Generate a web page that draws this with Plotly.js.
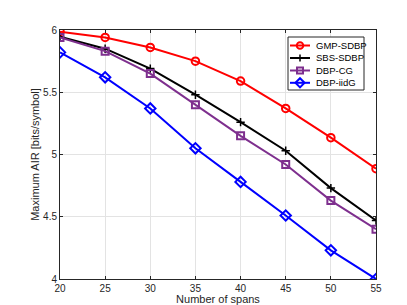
<!DOCTYPE html>
<html><head><meta charset="utf-8">
<script src="https://cdn.plot.ly/plotly-3.0.1.min.js"></script>
<style>html,body{margin:0;padding:0;background:#fff;}#c{width:407px;height:305px;}</style>
</head><body><div id="c"></div>
<script>
const spans = [20, 25, 30, 35, 40, 45, 50, 55];
const gmpSDBP = [5.987, 5.94, 5.86, 5.75, 5.59, 5.37, 5.135, 4.886];
const sbsSDBP = [5.946, 5.85, 5.69, 5.48, 5.26, 5.03, 4.73, 4.47];
const dbpCG   = [5.94, 5.83, 5.65, 5.40, 5.15, 4.92, 4.63, 4.40];
const dbpIidG = [5.82, 5.62, 5.37, 5.05, 4.78, 4.51, 4.23, 4.00];
const names = ['GMP-SDBP', 'SBS-SDBP', 'DBP-CG', 'DBP-iidG'];
const xTicks = [20, 25, 30, 35, 40, 45, 50, 55];
const yTicks = [4, 4.5, 5, 5.5, 6];

const series = [gmpSDBP, sbsSDBP, dbpCG, dbpIidG];
const colors = ['#ff0000', '#000000', '#7e2f8e', '#0000ff'];
const symbols = ['circle-open', 'cross-thin-open', 'square-open', 'diamond-open'];
const sizes = [7.5, 6, 7, 8];
const mlw = [2, 1.5, 2, 2];
const traces = series.map((s, i) => ({
  x: spans, y: s, name: names[i], type: 'scatter', mode: 'lines+markers',
  showlegend: false,
  line: {color: colors[i], width: 2},
  marker: {symbol: symbols[i], size: sizes[i], color: colors[i], line: {color: colors[i], width: mlw[i]}}
}));

// Custom compact legend (MATLAB style) drawn in a hidden 0..1 overlay frame
const plotL = 60, plotR = 376, plotT = 30, plotB = 279;
const fx = px => (px - plotL) / (plotR - plotL);
const fy = py => (plotB - py) / (plotB - plotT);
const legRowY = [45.5, 58, 70.5, 82.8];
const legendTraces = [{
  x: [fx(288), fx(364), fx(364), fx(288), fx(288)],
  y: [fy(90), fy(90), fy(37), fy(37), fy(90)],
  xaxis: 'x2', yaxis: 'y2', type: 'scatter', mode: 'lines', fill: 'toself',
  fillcolor: '#fff', line: {color: '#262626', width: 1}, showlegend: false, hoverinfo: 'skip'
}];
const annotations = [];
names.forEach((n, i) => {
  legendTraces.push({
    x: [fx(290), fx(310)], y: [fy(legRowY[i]), fy(legRowY[i])],
    xaxis: 'x2', yaxis: 'y2', type: 'scatter', mode: 'lines', showlegend: false,
    line: {color: colors[i], width: 2}, hoverinfo: 'skip'
  });
  legendTraces.push({
    x: [fx(300)], y: [fy(legRowY[i])],
    xaxis: 'x2', yaxis: 'y2', type: 'scatter', mode: 'markers', showlegend: false,
    marker: {symbol: symbols[i], size: sizes[i] - 1, color: colors[i], line: {color: colors[i], width: mlw[i]}},
    hoverinfo: 'skip'
  });
  annotations.push({xref: 'paper', yref: 'paper', x: fx(314), y: fy(legRowY[i]),
    xanchor: 'left', yanchor: 'middle', showarrow: false, text: n,
    font: {family: 'Liberation Sans, Arial, sans-serif', size: 9.5, color: '#000'}});
});

const font = {family: 'Liberation Sans, Arial, sans-serif', size: 10, color: '#262626'};
const layout = {
  width: 407, height: 305,
  margin: {l: 60, r: 31, t: 30, b: 26},
  paper_bgcolor: '#fff', plot_bgcolor: '#fff',
  font: font,
  showlegend: false,
  annotations: annotations,
  xaxis: {
    range: [20, 55], tickvals: xTicks, ticktext: xTicks.map(String),
    showgrid: true, gridcolor: '#e3e3e3', gridwidth: 1,
    showline: true, linecolor: '#262626', linewidth: 1, mirror: 'ticks',
    ticks: 'inside', ticklen: 3, tickcolor: '#262626',
    zeroline: false, tickfont: {size: 10, color: '#262626'},
    title: {text: 'Number of spans', font: {size: 11, color: '#262626'}, standoff: 11}
  },
  yaxis: {
    range: [4, 6], tickvals: yTicks, ticktext: ['4', '4.5', '5', '5.5', '6'],
    showgrid: true, gridcolor: '#e3e3e3', gridwidth: 1,
    showline: true, linecolor: '#262626', linewidth: 1, mirror: 'ticks',
    ticks: 'inside', ticklen: 3, tickcolor: '#262626',
    zeroline: false, tickfont: {size: 10, color: '#262626'},
    title: {text: 'Maximum AIR [bits/symbol]', font: {size: 11, color: '#262626'}, standoff: 1}
  },
  xaxis2: {overlaying: 'x', range: [0, 1], visible: false, fixedrange: true},
  yaxis2: {overlaying: 'y', range: [0, 1], visible: false, fixedrange: true}
};
Plotly.newPlot('c', traces.concat(legendTraces), layout, {staticPlot: true, displayModeBar: false});
</script></body></html>
